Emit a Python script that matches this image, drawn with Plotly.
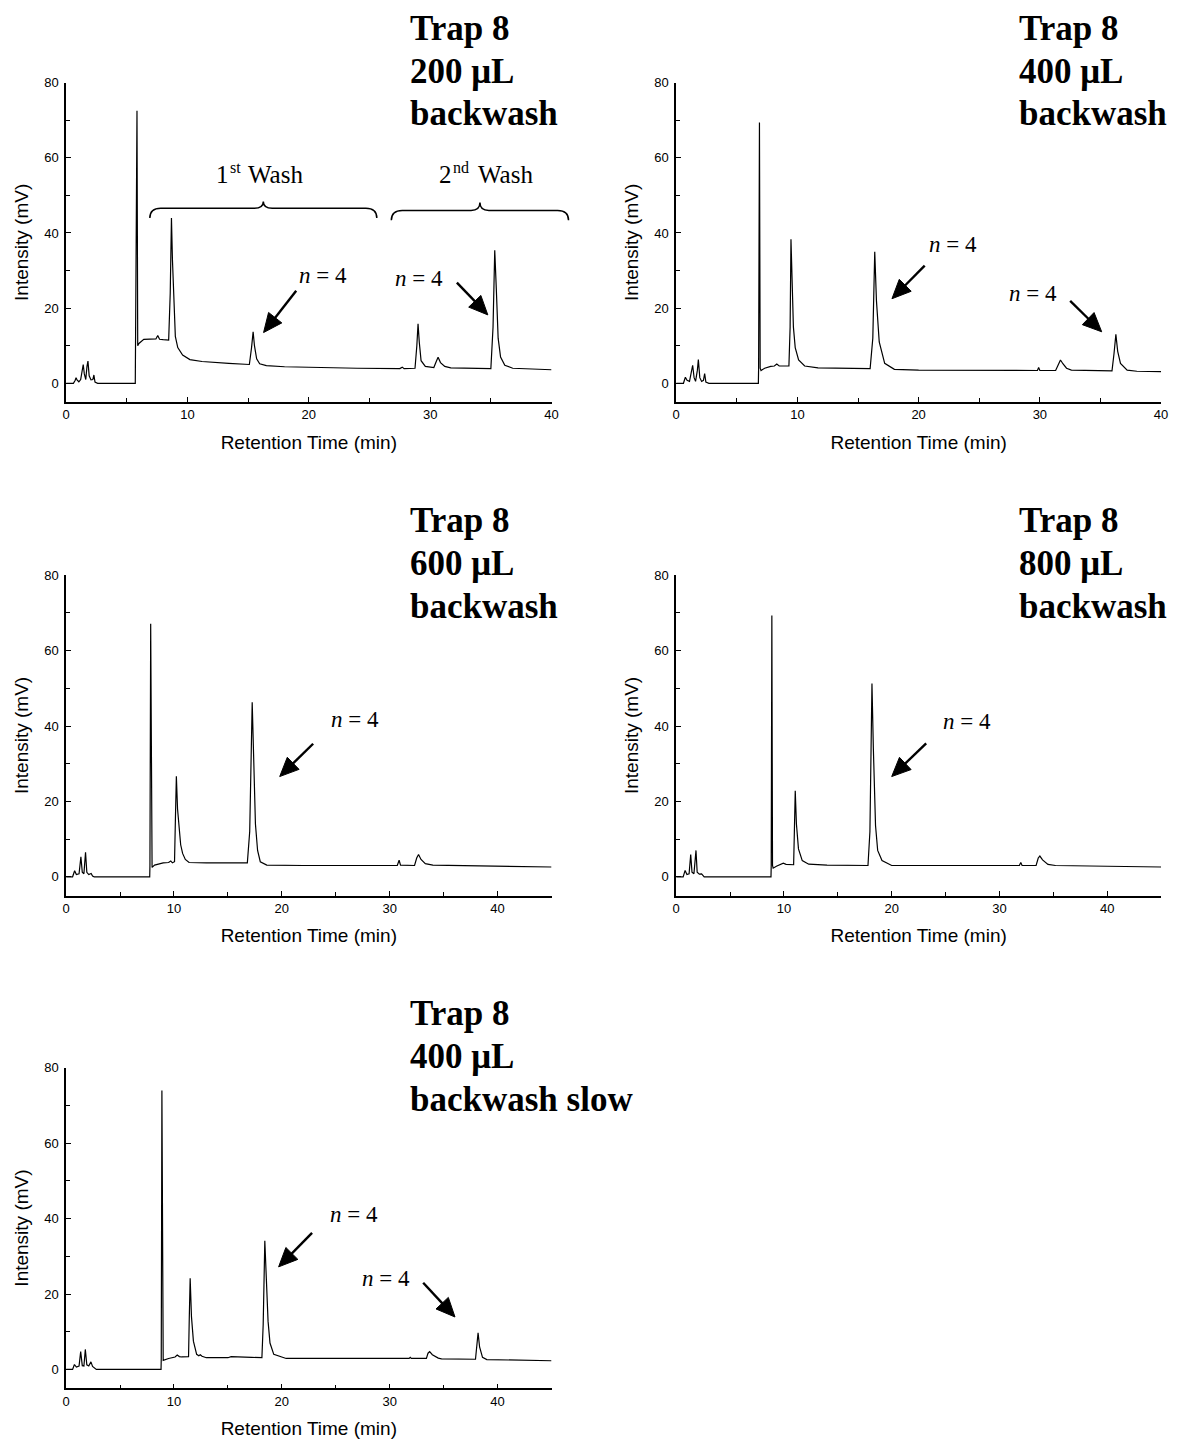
import math
import plotly.graph_objects as go

W, H = 1178, 1440

# ---------------- data ----------------
# Panel 1: Trap 8, 200 uL backwash
p1_t = [0, 0.6, 0.75, 0.82, 0.9, 1.05, 1.2, 1.32, 1.41, 1.5, 1.62, 1.72, 1.8, 1.9, 2.05, 2.2, 2.29, 2.38, 2.6,
        5.70, 5.72, 5.84, 5.90, 6.0, 6.4, 7.0, 7.4, 7.55, 7.7, 8.0, 8.45, 8.58, 8.68, 8.76, 8.9, 9.0, 9.2, 9.6,
        10.2, 11.2, 13.4, 15.1, 15.28, 15.41, 15.52, 15.7, 15.95, 16.5, 18.0, 20.0, 24.0, 27.5, 27.7, 27.85,
        28.75, 28.9, 29.0, 29.1, 29.25, 29.6, 30.3, 30.5, 30.65, 30.85, 31.2, 31.7, 35.0, 35.18, 35.32, 35.45,
        35.6, 35.8, 36.15, 36.8, 40.0]
p1_v = [0, 0, 0.8, 1.5, 0.9, 0.4, 1.0, 3.5, 5.0, 2.5, 1.0, 4.5, 5.9, 2.0, 0.9, 1.0, 2.2, 0.3, 0,
        0, 9.8, 72.5, 10.0, 10.6, 11.7, 11.8, 11.8, 12.7, 11.7, 11.6, 11.5, 24.0, 44.0, 33.0, 20.0, 12.5, 9.5, 7.5,
        6.3, 5.8, 5.3, 5.0, 9.5, 13.7, 10.0, 6.5, 5.2, 4.7, 4.4, 4.2, 4.0, 3.9, 4.3, 3.9,
        4.0, 10.0, 15.8, 11.0, 6.0, 4.5, 4.2, 5.8, 6.9, 5.5, 4.5, 4.1, 3.9, 15.0, 35.4, 25.0,
        12.0, 7.0, 4.8, 4.0, 3.6]

# Panel 2: Trap 8, 400 uL backwash
p2_t = [0, 0.6, 0.76, 0.9, 1.1, 1.25, 1.36, 1.48, 1.6, 1.75, 1.83, 1.95, 2.1, 2.25, 2.35, 2.45, 2.7,
        6.78, 6.80, 6.87, 6.93, 7.0, 7.3, 7.8, 8.1, 8.3, 8.5, 9.3, 9.4, 9.47, 9.57, 9.67, 9.82, 10.1, 10.6,
        11.7, 16.0, 16.22, 16.38, 16.52, 16.75, 17.2, 18.0, 20.0, 29.8, 29.9, 30.0, 31.3, 31.5, 31.7, 31.9,
        32.2, 32.6, 35.95, 36.12, 36.27, 36.42, 36.65, 37.2, 38.0, 40.0]
p2_v = [0, 0, 1.6, 0.8, 0.5, 2.5, 4.8, 1.5, 0.5, 3.5, 6.3, 1.5, 0.5, 0.8, 2.6, 0.3, 0,
        0, 4.0, 69.4, 4.0, 3.4, 4.0, 4.5, 4.6, 5.1, 4.6, 4.6, 15.0, 38.3, 25.0, 15.0, 9.5, 6.2, 4.6,
        4.1, 3.9, 12.0, 35.0, 22.0, 11.0, 5.3, 3.7, 3.5, 3.4, 4.2, 3.4, 3.4, 4.8, 6.2, 5.2,
        4.0, 3.5, 3.3, 8.0, 13.0, 8.5, 5.3, 3.5, 3.2, 3.1]

# Panel 3: Trap 8, 600 uL backwash
p3_t = [0, 0.6, 0.79, 0.95, 1.2, 1.37, 1.5, 1.65, 1.8, 1.92, 2.1, 2.32, 2.45, 2.6,
        7.75, 7.77, 7.84, 7.90, 7.97, 8.2, 8.6, 9.0, 9.5, 9.7, 9.85, 10.05, 10.13, 10.22, 10.33, 10.48, 10.62,
        10.8, 11.05, 11.4, 13.0, 16.8, 17.02, 17.25, 17.38, 17.55, 17.75, 18.0, 18.6, 22.0, 30.7, 30.87, 31.0,
        32.3, 32.5, 32.67, 32.9, 33.3, 34.0, 40.0, 45.0]
p3_v = [0, 0, 1.6, 0.6, 0.8, 5.3, 1.2, 0.8, 6.5, 1.2, 0.6, 0.9, 0.2, 0,
        0, 3.0, 67.1, 3.0, 2.5, 3.1, 3.4, 3.7, 3.8, 4.2, 3.7, 4.0, 15.0, 26.7, 18.0, 12.3, 8.5,
        6.2, 4.6, 3.8, 3.7, 3.7, 12.0, 46.3, 30.0, 14.0, 7.0, 4.0, 3.1, 3.0, 3.0, 4.4, 3.1,
        3.0, 5.0, 5.9, 4.6, 3.5, 3.1, 2.8, 2.6]

# Panel 4: Trap 8, 800 uL backwash
p4_t = [0, 0.65, 0.83, 1.0, 1.2, 1.35, 1.47, 1.65, 1.84, 1.95, 2.15, 2.36, 2.6,
        8.80, 8.82, 8.88, 8.94, 9.0, 9.3, 9.7, 9.94, 10.2, 10.9, 10.97, 11.05, 11.16, 11.35, 11.7, 12.3, 14.0,
        17.8, 17.98, 18.17, 18.3, 18.5, 18.7, 19.1, 20.0, 25.0, 31.85, 31.98, 32.1, 33.4, 33.6, 33.75, 34.0,
        34.5, 35.2, 40.0, 45.0]
p4_v = [0, 0, 1.7, 0.6, 0.8, 5.9, 1.2, 0.8, 7.0, 1.2, 0.7, 0.8, 0,
        0, 3.0, 69.3, 3.0, 2.3, 2.8, 3.3, 3.6, 3.3, 3.2, 12.0, 22.8, 14.0, 7.4, 4.3, 3.35, 3.1,
        3.0, 12.0, 51.3, 34.0, 13.6, 7.0, 4.3, 3.0, 3.0, 3.0, 3.8, 3.0, 3.0, 5.0, 5.5, 4.5,
        3.3, 3.0, 2.8, 2.6]

# Panel 5: Trap 8, 400 uL backwash slow
p5_t = [0, 0.6, 0.77, 0.95, 1.2, 1.35, 1.5, 1.65, 1.78, 1.92, 2.1, 2.3, 2.45, 2.8,
        8.80, 8.82, 8.88, 8.94, 9.0, 9.5, 10.1, 10.3, 10.5, 10.7, 11.35, 11.42, 11.5, 11.62, 11.8, 12.1, 12.3,
        12.44, 12.6, 13.0, 15.0, 15.3, 16.7, 17.2, 18.15, 18.27, 18.42, 18.56, 18.72, 18.9, 19.25, 20.4, 25.0,
        31.8, 31.9, 32.0, 33.4, 33.55, 33.7, 33.95, 34.5, 34.8, 37.95, 38.07, 38.19, 38.33, 38.6, 39.0, 45.0]
p5_v = [0, 0, 1.3, 0.6, 0.9, 4.7, 1.0, 0.9, 5.3, 1.2, 0.9, 2.0, 0.8, 0,
        0, 3.0, 74.0, 3.0, 2.4, 2.9, 3.3, 3.8, 3.4, 3.3, 3.4, 14.0, 24.2, 14.0, 7.5, 4.0, 3.6,
        3.9, 3.5, 3.1, 3.1, 3.4, 3.4, 3.2, 3.1, 12.0, 34.1, 22.0, 12.8, 7.0, 4.0, 2.9, 2.9,
        2.9, 3.2, 2.9, 2.9, 4.3, 4.7, 3.9, 3.0, 2.8, 2.7, 6.0, 9.7, 6.0, 3.2, 2.6, 2.3]

titles = [
    ["Trap 8", "200 μL", "backwash"],
    ["Trap 8", "400 μL", "backwash"],
    ["Trap 8", "600 μL", "backwash"],
    ["Trap 8", "800 μL", "backwash"],
    ["Trap 8", "400 μL", "backwash slow"],
]
x_max = [40, 40, 45, 45, 45]
y_range = [-5, 80]

# "n = 4" labels: (text_x, text_y, tail_x, tail_y, head_x, head_y) in data units
n4_labels = [
    [(21.2, 28.6, 18.96, 24.6, 16.27, 13.5), (29.1, 28.0, 32.2, 26.8, 34.75, 18.2)],
    [(22.8, 37.0, 20.5, 31.3, 17.8, 22.5), (29.4, 23.8, 32.5, 21.9, 35.1, 13.7)],
    [(26.8, 41.6, 22.9, 35.3, 19.8, 26.6)],
    [(27.0, 41.3, 23.2, 35.4, 20.0, 26.6)],
    [(26.7, 41.1, 22.8, 36.2, 19.7, 27.2), (29.7, 24.2, 33.1, 23.0, 36.05, 13.9)],
]

# wash braces on panel 1: (x_start, x_end, x_tip, y_end, y_line, y_tip), (number, suffix), label x, label y
wash_braces = [
    ((6.9, 25.6, 16.25, 44.0, 46.6, 48.4), ("1", "st"), 16.3, 55.6, (-33, -36, -18)),
    ((26.8, 41.4, 34.1, 43.4, 46.0, 48.1), ("2", "nd"), 34.9, 55.6, (-36, -39, -14)),
]

series = [(p1_t, p1_v), (p2_t, p2_v), (p3_t, p3_v), (p4_t, p4_v), (p5_t, p5_v)]

# ---------------- layout geometry (pixels) ----------------
col_px = [(62.7, 552.7), (678.5, 1168.0)]
row_px = [(76.0, 397.0), (571.0, 893.0), (1066.0, 1388.0)]
grid = [(0, 0), (0, 1), (1, 0), (1, 1), (2, 0)]
title_x_px = [408, 1023]

fig = go.Figure()
annotations = []
shapes = []

tick_font = dict(family="Liberation Sans, Arial", size=13, color="black")
label_font = dict(family="Liberation Sans, Arial", size=19, color="black")
serif = "Liberation Serif, Times New Roman"


def to_px(i, t, v):
    r, c = grid[i]
    x0, x1 = col_px[c]
    yt, yb = row_px[r]
    px = x0 + (t - 0) / x_max[i] * (x1 - x0)
    py = yb - (v - y_range[0]) / (y_range[1] - y_range[0]) * (yb - yt)
    return px, py


def P(px, py):
    return f"{px / W:.5f},{1 - py / H:.5f}"


for i, (t, v) in enumerate(series):
    r, c = grid[i]
    sfx = "" if i == 0 else str(i + 1)
    fig.add_trace(go.Scatter(x=t, y=v, mode="lines", line=dict(color="black", width=1.2),
                             xaxis="x" + sfx, yaxis="y" + sfx, showlegend=False, hoverinfo="skip"))
    x0, x1 = col_px[c]
    yt, yb = row_px[r]
    common = dict(showgrid=False, zeroline=False, showline=True, linecolor="black", linewidth=1.5,
                  ticks="inside", ticklen=5, tickwidth=1.2, tickcolor="black", tickfont=tick_font,
                  mirror=False)
    fig.layout["xaxis" + sfx] = dict(
        domain=[x0 / W, x1 / W], anchor="y" + sfx, range=[0, x_max[i]], dtick=10, tick0=0,
        minor=dict(dtick=5, ticks="inside", ticklen=4, tickcolor="black", tickwidth=1.0),
        title=dict(text="Retention Time (min)", font=label_font, standoff=14),
        ticklabelstandoff=0, **common)
    fig.layout["yaxis" + sfx] = dict(
        domain=[1 - yb / H, 1 - yt / H], anchor="x" + sfx, range=y_range, dtick=20, tick0=0,
        minor=dict(dtick=10, ticks="inside", ticklen=4, tickcolor="black", tickwidth=1.0),
        title=dict(text="Intensity (mV)", font=label_font, standoff=11),
        ticklabelstandoff=3, **common)

    # panel title block
    offsets = [-54.5, -11.5, 31.5]
    for line, off in zip(titles[i], offsets):
        annotations.append(dict(text="<b>" + line + "</b>", x=title_x_px[c] / W, y=1 - (yt + off) / H,
                                xref="paper", yref="paper", xanchor="left", yanchor="middle",
                                showarrow=False, font=dict(family=serif, size=35, color="black")))

    # n = 4 labels and arrows (arrows drawn as shapes)
    for (tx, ty, ax_, ay_, hx, hy) in n4_labels[i]:
        annotations.append(dict(text="<i>n</i> = 4", x=tx, y=ty, xref="x" + sfx, yref="y" + sfx,
                                showarrow=False, xanchor="center", yanchor="middle",
                                font=dict(family=serif, size=23, color="black")))
        sx, sy = to_px(i, ax_, ay_)
        ex, ey = to_px(i, hx, hy)
        dx, dy = ex - sx, ey - sy
        ln = math.hypot(dx, dy)
        ux, uy = dx / ln, dy / ln
        nx, ny = -uy, ux
        head_len, half_w = 19.0, 8.5
        bx, by = ex - head_len * ux, ey - head_len * uy
        shapes.append(dict(type="path", path=f"M {P(sx, sy)} L {P(bx + 2 * ux, by + 2 * uy)}",
                           xref="paper", yref="paper", line=dict(color="black", width=2.4)))
        shapes.append(dict(type="path",
                           path=(f"M {P(ex, ey)} L {P(bx + half_w * nx, by + half_w * ny)} "
                                 f"L {P(bx - half_w * nx, by - half_w * ny)} Z"),
                           xref="paper", yref="paper", fillcolor="black",
                           line=dict(color="black", width=1)))

# braces on panel 1
for (xs, xe, xt, ye, yl, ytp), (num, suf), lx, ly, (s_num, s_suf, s_word) in wash_braces:
    ps = to_px(0, xs, ye)
    pl0 = to_px(0, xs, yl)
    pe = to_px(0, xe, ye)
    pt = to_px(0, xt, ytp)
    yline = pl0[1]
    d_end, d_mid = 11, 9
    path = (f"M {P(ps[0], ps[1])} Q {P(ps[0], yline)} {P(ps[0] + d_end, yline)} "
            f"L {P(pt[0] - d_mid, yline)} Q {P(pt[0], yline)} {P(pt[0], pt[1])} "
            f"Q {P(pt[0], yline)} {P(pt[0] + d_mid, yline)} "
            f"L {P(pe[0] - d_end, yline)} Q {P(pe[0], yline)} {P(pe[0], pe[1])}")
    shapes.append(dict(type="path", path=path, xref="paper", yref="paper",
                       line=dict(color="black", width=1.5)))
    # label "1st Wash" built from three pieces (number, raised suffix, word)
    lab_font = dict(family=serif, size=25, color="black")
    annotations.append(dict(text=num, x=lx, y=ly, xref="x", yref="y", showarrow=False,
                            xanchor="right", yanchor="middle", xshift=s_num, font=lab_font))
    annotations.append(dict(text=suf, x=lx, y=ly, xref="x", yref="y", showarrow=False,
                            xanchor="left", yanchor="middle", xshift=s_suf, yshift=7,
                            font=dict(family=serif, size=16, color="black")))
    annotations.append(dict(text="Wash", x=lx, y=ly, xref="x", yref="y", showarrow=False,
                            xanchor="left", yanchor="middle", xshift=s_word, font=lab_font))

fig.update_layout(width=W, height=H, margin=dict(l=0, r=0, t=0, b=0),
                  paper_bgcolor="white", plot_bgcolor="white",
                  annotations=annotations, shapes=shapes, showlegend=False)

fig.write_html("out.html")
